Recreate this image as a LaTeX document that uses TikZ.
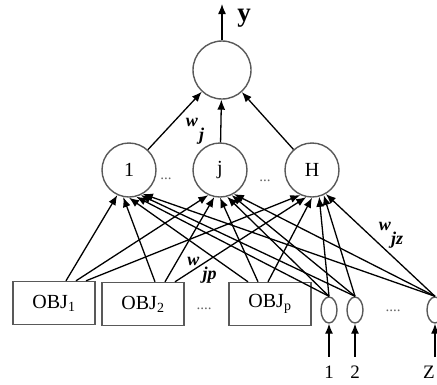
\documentclass[tikz,border=0pt]{standalone}
\usepackage{fontspec}
\setmainfont{Liberation Serif}
\usetikzlibrary{arrows.meta,shapes.geometric}

\begin{document}
\begin{tikzpicture}[x=1pt, y=-1pt, line width=1.3pt,
  >={Latex[length=10pt,width=8pt]},
  neuron/.style={circle, draw=black!65, line width=1.4pt, minimum size=54pt, inner sep=0pt, font=\fontsize{20}{22}\selectfont},
  objbox/.style={rectangle, draw=black!65, line width=1.4pt, minimum width=82pt, minimum height=43pt, font=\fontsize{20}{22}\selectfont},
  zin/.style={ellipse, draw=black!65, line width=1.4pt, minimum width=16pt, minimum height=26pt, inner sep=0pt},
  wlab/.style={inner sep=0pt, font=\fontsize{18}{20}\selectfont\bfseries\itshape},
  dots/.style={inner sep=0pt, font=\fontsize{15}{17}\selectfont, text=black!60},
  num/.style={font=\fontsize{19}{21}\selectfont}]

  \clip (0,0) rectangle (437,384);

  % 出力層
  \node[neuron, minimum size=58pt] (out) at (222,70) {};
  \coordinate (ytip) at (222,4);
  \draw[->] (out) -- (ytip);
  \node[font=\fontsize{27}{29}\selectfont\bfseries] (ylab) at (244,18) {y};

  % 中間層
  \node[neuron] (h1) at (129,170) {1};
  \node[neuron] (hj) at (220,170) {j};
  \node[neuron] (hH) at (312,170) {H};
  \node[dots] (d1) at (166,179) {...};
  \node[dots] (d2) at (265,181) {...};
  \foreach \h in {h1,hj,hH}
    \draw[->] (\h) -- (out);

  % 入力層(OBJ)
  \node[objbox] (obj1) at (54,303) {OBJ\textsubscript{1}};
  \node[objbox] (obj2) at (143,304) {OBJ\textsubscript{2}};
  \node[objbox] (objp) at (270,304) {OBJ\textsubscript{p}};
  \node[dots] (d3) at (204,309) {....};

  % 入力層(1..Z)
  \node[zin] (x1) at (329,310) {};
  \node[zin] (x2) at (355,310) {};
  \node[zin] (xz) at (435,310) {};
  \node[dots] (d4) at (393,311) {....};
  \node[num] (l1) at (329,372) {1};
  \node[num] (l2) at (355,372) {2};
  \node[num] (lz) at (429,372) {Z};
  \foreach \n in {1,2}
    \draw[->, shorten <=5pt] (l\n) -- (x\n);
  \coordinate (zfoot) at (435,357);
  \draw[->] (zfoot) -- (xz);

  % 結合
  \foreach \i/\s/\a in {obj1/12/245, obj2/12/258, objp/-22/270}
    \foreach \h/\d in {h1/0, hj/10, hH/20}
      \draw[->] ([xshift=\s+\d]\i.north) -- (\h.\a);
  \foreach \i/\a in {x1/285, x2/295, xz/300}
    \foreach \h in {h1,hj,hH}
      \draw[->] (\i.north) -- (\h.\a);

  % 重み
  \node[wlab] (wj) at (195,131) {w\kern1pt\raisebox{-0.8em}{j}};
  \node[wlab] (wjp) at (202,270) {w\kern3pt\raisebox{-0.8em}{jp}};
  \node[wlab] (wjz) at (391,235) {w\raisebox{-0.8em}{jz}};

\end{tikzpicture}
\end{document}
